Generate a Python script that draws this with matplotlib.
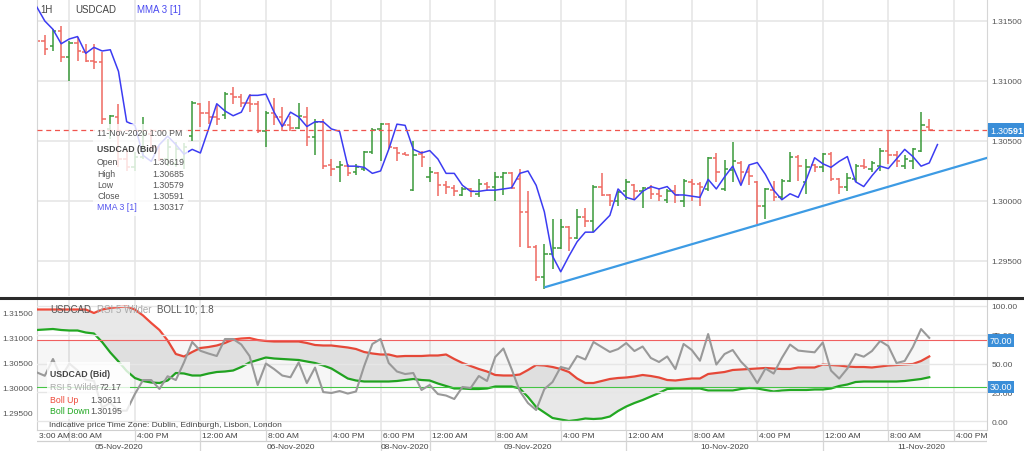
import matplotlib
matplotlib.use('Agg')
import matplotlib.pyplot as plt
import matplotlib.transforms as mtransforms
from matplotlib.lines import Line2D
from matplotlib.patches import Rectangle
import numpy as np

plt.rcParams['font.family'] = ['Liberation Sans', 'DejaVu Sans']
plt.rcParams['mathtext.fontset'] = 'custom'
plt.rcParams['mathtext.rm'] = 'Liberation Sans'
plt.rcParams['mathtext.bf'] = 'Liberation Sans:bold'

# ---------------- data ----------------
bar_index = list(range(-4, 106))   # hourly bars, 0 = 05-Nov 8:00 AM

opens = [1.3135, 1.3133, 1.3129, 1.3142, 1.3120, 1.3132, 1.3124, 1.3117, 1.3116, 1.3060,
         1.3070, 1.3035, 1.3028, 1.3037, 1.3056, 1.3045, 1.3035, 1.3031, 1.3035, 1.3054,
         1.3081, 1.3073, 1.3070, 1.3072, 1.3089, 1.3087, 1.3082, 1.3081, 1.3058, 1.3073,
         1.3070, 1.3063, 1.3061, 1.3070, 1.3053, 1.3066, 1.3030, 1.3028, 1.3029, 1.3024,
         1.3027, 1.3041, 1.3060, 1.3064, 1.3044, 1.30395, 1.3009, 1.3039, 1.3020, 1.3023,
         1.3013, 1.3011, 1.3005, 1.3010, 1.3006, 1.3014, 1.3012, 1.3020, 1.3023, 1.3018,
         1.2991, 1.2962, 1.2937, 1.2956, 1.2961, 1.2978, 1.2969, 1.2987, 1.2983, 1.3012,
         1.3005, 1.3000, 1.3008, 1.3013, 1.3008, 1.3011, 1.3006, 1.3001, 1.3008, 1.3000,
         1.3016, 1.3014, 1.3010, 1.3036, 1.3010, 1.3026, 1.3032, 1.3024, 1.3016, 1.2996,
         1.3009, 1.3003, 1.3017, 1.3037, 1.3016, 1.3030, 1.3028, 1.3039, 1.3018, 1.3012,
         1.3018, 1.3029, 1.3027, 1.3029, 1.3042, 1.3038, 1.3029, 1.3033, 1.3042, 1.30619]
highs = [1.3142, 1.3138, 1.3143, 1.3146, 1.3133, 1.3137, 1.3131, 1.3131, 1.3124, 1.3072,
         1.3081, 1.3043, 1.3041, 1.3070, 1.3060, 1.3046, 1.3052, 1.3049, 1.3048, 1.3083,
         1.3082, 1.3083, 1.3081, 1.3091, 1.3095, 1.3089, 1.3089, 1.3083, 1.3075, 1.3086,
         1.3078, 1.3071, 1.3082, 1.3078, 1.3068, 1.3068, 1.3035, 1.3033, 1.3031, 1.3031,
         1.3042, 1.3061, 1.3065, 1.3065, 1.3045, 1.3041, 1.3050, 1.3042, 1.3028, 1.3024,
         1.3017, 1.3013, 1.3012, 1.3011, 1.3018, 1.3016, 1.3024, 1.3024, 1.3024, 1.3027,
         1.3008, 1.2963, 1.2964, 1.2985, 1.2985, 1.2979, 1.2993, 1.2994, 1.3013, 1.3023,
         1.3006, 1.3008, 1.3018, 1.3014, 1.3012, 1.3013, 1.3010, 1.3010, 1.3013, 1.3018,
         1.3018, 1.3016, 1.3037, 1.3040, 1.3034, 1.3049, 1.3033, 1.3029, 1.3017, 1.3011,
         1.3017, 1.3018, 1.3041, 1.3038, 1.3035, 1.3031, 1.3040, 1.3041, 1.3019, 1.3023,
         1.3031, 1.3035, 1.3033, 1.3044, 1.3058, 1.3042, 1.3038, 1.3044, 1.3074, 1.30685]
lows = [1.3130, 1.3122, 1.3125, 1.3116, 1.3100, 1.3117, 1.3116, 1.3110, 1.3064, 1.3052,
        1.3028, 1.3025, 1.3025, 1.3035, 1.3042, 1.3033, 1.3029, 1.3028, 1.3027, 1.3050,
        1.3062, 1.3064, 1.3063, 1.3068, 1.3081, 1.3078, 1.3074, 1.3057, 1.3045, 1.3063,
        1.3058, 1.3058, 1.3060, 1.3046, 1.3038, 1.3027, 1.3021, 1.3016, 1.3021, 1.3022,
        1.3025, 1.3039, 1.3033, 1.3043, 1.3033, 1.3038, 1.3008, 1.3028, 1.3016, 1.3004,
        1.3006, 1.3004, 1.3004, 1.3003, 1.3003, 1.3008, 1.3000, 1.3005, 1.3010, 1.2962,
        1.2961, 1.2933, 1.2927, 1.2943, 1.2960, 1.2958, 1.2968, 1.2978, 1.2974, 1.3004,
        1.2996, 1.2996, 1.3001, 1.3002, 1.2994, 1.3002, 1.3000, 1.2998, 1.2998, 1.2995,
        1.3000, 1.2996, 1.3008, 1.3016, 1.3008, 1.3016, 1.3013, 1.3013, 1.2981, 1.2985,
        1.3000, 1.3002, 1.3016, 1.3017, 1.3006, 1.3024, 1.3024, 1.3017, 1.3006, 1.3008,
        1.3016, 1.3027, 1.3024, 1.3025, 1.3031, 1.3028, 1.3027, 1.3027, 1.3041, 1.30579]
closes = [1.3133, 1.3127, 1.3142, 1.3120, 1.3132, 1.3125, 1.3117, 1.3116, 1.3068, 1.3071,
          1.3035, 1.3028, 1.3037, 1.3056, 1.3045, 1.3035, 1.3045, 1.3043, 1.3045, 1.3082,
          1.3073, 1.3070, 1.3068, 1.3089, 1.3087, 1.3082, 1.3081, 1.3058, 1.3073, 1.3070,
          1.3063, 1.3061, 1.3071, 1.3053, 1.3066, 1.3029, 1.3027, 1.3030, 1.3023, 1.3028,
          1.3041, 1.3059, 1.3064, 1.3045, 1.3040, 1.3038, 1.3038, 1.3037, 1.3024, 1.3013,
          1.3012, 1.3008, 1.3010, 1.3008, 1.3014, 1.3012, 1.3020, 1.3023, 1.3011, 1.2991,
          1.2962, 1.2937, 1.2956, 1.2961, 1.2978, 1.2969, 1.2987, 1.2983, 1.3012, 1.3005,
          1.3000, 1.30075, 1.3016, 1.3008, 1.3011, 1.3006, 1.3004, 1.3008, 1.3005, 1.3017,
          1.3014, 1.3012, 1.3036, 1.3024, 1.3027, 1.3033, 1.3024, 1.3021, 1.2996, 1.3010,
          1.3003, 1.3017, 1.3037, 1.3029, 1.3028, 1.3028, 1.3039, 1.3018, 1.3012, 1.3019,
          1.3029, 1.3028, 1.3032, 1.3042, 1.3038, 1.3033, 1.3035, 1.3043, 1.3063, 1.30591]

mma_index = list(range(-4, 107))   # MMA 3 [1], drawn one bar forward
mma = [1.3162, 1.3150, 1.3143, 1.3131, 1.3135, 1.3137, 1.3123, 1.3128, 1.3125, 1.3126,
       1.3108, 1.3066, 1.3063, 1.3038, 1.3033, 1.3047, 1.3054, 1.3047, 1.3039, 1.3043,
       1.3040, 1.3060, 1.3081, 1.3075, 1.3071, 1.3074, 1.3088, 1.3088, 1.3089, 1.3074,
       1.3062, 1.3074, 1.3070, 1.3062, 1.3066, 1.3066, 1.3060, 1.3058, 1.3029, 1.3029,
       1.3028, 1.3023, 1.3025, 1.3043, 1.3064, 1.3063, 1.3043, 1.3040, 1.3042, 1.3035,
       1.3023, 1.3023, 1.3013, 1.3008, 1.3008, 1.3009, 1.3009, 1.3010, 1.3011, 1.3023,
       1.3025, 1.3013, 1.2991, 1.2954, 1.2941, 1.2954, 1.2966, 1.2974, 1.2974, 1.2981,
       1.2988, 1.3010, 1.3003, 1.3001, 1.3008, 1.3012, 1.3010, 1.3012, 1.3005, 1.3005,
       1.3004, 1.3003, 1.3018, 1.3010, 1.3020, 1.3029, 1.3013, 1.3030, 1.3032, 1.3022,
       1.3009, 1.3001, 1.3006, 1.3003, 1.3018, 1.3036, 1.3031, 1.3028, 1.3033, 1.3037,
       1.3016, 1.3012, 1.3021, 1.3029, 1.3027, 1.3035, 1.3043, 1.3037, 1.3029, 1.30317,
       1.3047]

trend_x = [58, 112.1]
trend_y = [1.2928, 1.3036]

rsi = [42.4, 39.4, 53.9, 38.0, 50.0, 44.0, 36.0, 35.0, 12.0, 16.0,
       9.2, 9.2, 23.6, 35.7, 35.7, 28.0, 39.0, 35.7, 51.0, 68.6,
       61.0, 58.6, 56.5, 71.2, 71.2, 66.4, 56.5, 31.4, 50.0, 45.2,
       39.6, 38.1, 50.9, 33.1, 46.5, 25.3, 24.5, 26.2, 24.0, 25.8,
       47.8, 66.9, 71.2, 50.4, 43.1, 40.9, 41.8, 27.1, 31.4, 23.6,
       22.3, 19.3, 29.7, 28.8, 39.2, 34.9, 55.6, 63.0, 45.2, 26.2,
       15.8, 9.8, 27.9, 34.0, 47.0, 45.2, 56.5, 53.5, 68.6, 64.3,
       60.0, 62.5, 67.7, 60.8, 64.7, 54.8, 51.3, 56.1, 45.2, 66.9,
       61.7, 52.4, 75.5, 49.1, 58.2, 61.7, 51.7, 44.4, 33.1, 45.7,
       41.3, 54.8, 66.4, 61.2, 60.4, 59.7, 68.2, 43.9, 37.0, 45.7,
       58.2, 55.9, 60.8, 69.5, 65.1, 50.4, 52.2, 64.3, 79.8, 72.17]

boll_up = [1.3155, 1.3155, 1.3155, 1.3155, 1.3155, 1.3155, 1.3155, 1.3148, 1.3155, 1.3158,
           1.3160, 1.3161, 1.3155, 1.3143, 1.3128, 1.3114, 1.3093, 1.3066, 1.3061, 1.3070,
           1.3078, 1.3080, 1.3083, 1.3088, 1.3095, 1.3097, 1.3098, 1.3094, 1.3092, 1.3091,
           1.3091, 1.3091, 1.3091, 1.3088, 1.3084, 1.3083, 1.3083, 1.3081, 1.3079, 1.3076,
           1.3070, 1.3067, 1.3065, 1.3065, 1.3061, 1.3062, 1.3062, 1.3062, 1.3063, 1.3063,
           1.3065, 1.3056, 1.3048, 1.3042, 1.3036, 1.3031, 1.3024, 1.3023, 1.3023, 1.3025,
           1.3034, 1.3044, 1.3043, 1.3040, 1.3036, 1.3030, 1.3017, 1.3008, 1.3008, 1.3012,
           1.3016, 1.3018, 1.3019, 1.3021, 1.3024, 1.3022, 1.3019, 1.3014, 1.3013, 1.3015,
           1.3017, 1.3017, 1.3026, 1.3028, 1.3030, 1.3034, 1.3035, 1.3036, 1.3037, 1.3038,
           1.3037, 1.3036, 1.3036, 1.3039, 1.3039, 1.3039, 1.3045, 1.3044, 1.3043, 1.3041,
           1.3040, 1.3040, 1.3039, 1.3041, 1.3043, 1.3044, 1.3045, 1.3046, 1.3052, 1.30611]
boll_down = [1.3114, 1.3115, 1.3116, 1.3114, 1.3113, 1.3113, 1.3109, 1.3107, 1.3090, 1.3069,
             1.3051, 1.3032, 1.3018, 1.3012, 1.3009, 1.3008, 1.3013, 1.3028, 1.3027, 1.3023,
             1.3023, 1.3027, 1.3030, 1.3031, 1.3033, 1.3040, 1.3049, 1.3054, 1.3059, 1.3057,
             1.3056, 1.3055, 1.3054, 1.3051, 1.3048, 1.3043, 1.3037, 1.3027, 1.3017, 1.3013,
             1.3011, 1.3011, 1.3011, 1.3011, 1.3012, 1.3014, 1.3016, 1.3014, 1.3013, 1.3007,
             1.3002, 1.2997, 1.2997, 1.2996, 1.2996, 1.2997, 1.3001, 1.3001, 1.3001, 1.2997,
             1.2980, 1.2960, 1.2949, 1.2938, 1.2935, 1.2932, 1.2934, 1.2937, 1.2936, 1.2937,
             1.2941, 1.2952, 1.2961, 1.2968, 1.2974, 1.2981, 1.2988, 1.2996, 1.2997, 1.2997,
             1.2997, 1.2997, 1.2993, 1.2993, 1.2993, 1.2993, 1.2996, 1.2998, 1.2997, 1.2994,
             1.2991, 1.2993, 1.2994, 1.2994, 1.2994, 1.2995, 1.2995, 1.2997, 1.3002, 1.3005,
             1.3010, 1.3011, 1.3011, 1.3011, 1.3011, 1.3011, 1.3012, 1.3014, 1.3016, 1.30195]

price_ticks = [1.295, 1.300, 1.305, 1.310, 1.315]
rsi_ticks = [0, 25, 50, 75, 100]
rsi_levels = [70, 30]

time_ticks = [-4, 0, 8, 16, 24, 32, 38, 44, 52, 60, 68, 76, 84, 92, 100, 108]
time_labels = ['3:00 AM', '8:00 AM', '4:00 PM', '12:00 AM', '8:00 AM', '4:00 PM', '6:00 PM',
               '12:00 AM', '8:00 AM', '4:00 PM', '12:00 AM', '8:00 AM', '4:00 PM', '12:00 AM',
               '8:00 AM', '4:00 PM']
date_bounds = [-4, 16, 38, 44, 68, 92, 116]
date_labels = ['05-Nov-2020', '06-Nov-2020', '08-Nov-2020', '09-Nov-2020', '10-Nov-2020', '11-Nov-2020']

tooltip_time = '11-Nov-2020 1:00 PM'

# ---------------- styling ----------------
RED = '#ef6a62'
GREEN = '#3a9a3a'
BLUE = '#3c3cf2'
GRID = '#e6e6e6'
TXT = '#555555'
TAG = '#3a8ed8'

W, H = 1024, 452
def box(x0, y0, x1, y1):
    return [x0 / W, 1 - y1 / H, (x1 - x0) / W, (y1 - y0) / H]

fig = plt.figure(figsize=(10.24, 4.52), dpi=100)
ax = fig.add_axes(box(37, 0, 987, 297))
axp = fig.add_axes(box(37, 300, 987, 431))
axr = axp.twinx()
axl = fig.add_axes(box(37, 431, 987, 452))

XMIN, XMAX = -3.95, 112.05
idx = np.array(bar_index)
o = np.array(opens); h = np.array(highs); l = np.array(lows); c = np.array(closes)
cols = np.where(c >= o, GREEN, RED)

# ---------------- top panel ----------------
ax.set_xlim(XMIN, XMAX)
ax.set_ylim(1.29208, 1.31683)
ax.set_xticks(time_ticks[1:])
ax.set_xticklabels([])
ax.yaxis.tick_right()
ax.set_yticks(price_ticks)
ax.set_yticklabels([f'{v:.5f}' for v in price_ticks])
ax.tick_params(axis='both', length=0, labelsize=6, labelcolor=TXT, pad=3)
ax.grid(True, color=GRID, lw=1.2, zorder=0)
ax.set_axisbelow(True)
for s in ['top', 'bottom']:
    ax.spines[s].set_visible(False)
for s in ['left', 'right']:
    ax.spines[s].set_color('#d6d6d6')

ax.vlines(idx, l, h, colors=cols, lw=1.1, zorder=2)
ax.hlines(o, idx - 0.42, idx, colors=cols, lw=1.1, zorder=2)
ax.hlines(c, idx, idx + 0.42, colors=cols, lw=1.1, zorder=2)
ax.plot(mma_index, mma, color=BLUE, lw=1.1, zorder=3)
ax.plot(trend_x, trend_y, color='#3d9be4', lw=1.6, zorder=3, solid_capstyle='butt')
ax.axhline(closes[-1], color='#f0554e', lw=0.9, ls=(0, (4, 3)), zorder=3)

tr = mtransforms.blended_transform_factory(ax.transAxes, ax.transData)
s = f'{closes[-1]:.5f}'
ax.text(1.003, closes[-1], s[:4] + r'$\mathbf{' + s[4:] + '}$', transform=tr, ha='left', va='center',
        fontsize=6.5, color='white', zorder=10, clip_on=False,
        bbox=dict(boxstyle='square,pad=0.18', fc=TAG, ec='none'))

ax.text(0.003, 0.966, '1H', transform=ax.transAxes, fontsize=7, color='#444', va='center')
ax.text(0.040, 0.966, 'USDCAD', transform=ax.transAxes, fontsize=7, color='#444', va='center')
ax.text(0.105, 0.966, 'MMA 3 [1]', transform=ax.transAxes, fontsize=7, color='#4a4af0', va='center')

# tooltip (top)
ax.add_patch(Rectangle((0.059, 0.269), 0.100, 0.310, transform=ax.transAxes,
                       fc='white', ec='none', alpha=0.8, zorder=6))
def ty(ypx):
    return 1 - ypx / 297
tx0, tx1 = (97 - 37) / 950, (152 - 37) / 950
ax.text(tx0, ty(133), tooltip_time, transform=ax.transAxes, fontsize=6.3, color=TXT, va='center', zorder=7)
ax.text(tx0, ty(150), 'USDCAD (Bid)', transform=ax.transAxes, fontsize=6.3, color='#444',
        fontweight='bold', va='center', zorder=7)
rows = [('Open', opens[-1]), ('High', highs[-1]), ('Low', lows[-1]), ('Close', closes[-1])]
for k, (lab, val) in enumerate(rows):
    yy = ty(163 + 11.3 * k)
    ax.text(tx0, yy, lab, transform=ax.transAxes, fontsize=6.3, color=TXT, va='center', zorder=7)
    ax.text(tx1, yy, f'{val:.5f}', transform=ax.transAxes, fontsize=6.3, color=TXT, va='center', zorder=7)
ax.text(tx0, ty(208), 'MMA 3 [1]', transform=ax.transAxes, fontsize=6.3, color='#5555ee', va='center', zorder=7)
ax.text(tx1, ty(208), f'{mma[-2]:.5f}', transform=ax.transAxes, fontsize=6.3, color=TXT, va='center', zorder=7)

# separator between panels
fig.add_artist(Line2D([0, 1], [1 - 298.5 / H, 1 - 298.5 / H], transform=fig.transFigure,
                      color='#2b2b2b', lw=2.2))

# ---------------- bottom panel ----------------
axp.set_xlim(XMIN, XMAX)
axp.set_ylim(1.2914, 1.3176)
axp.set_xticks(time_ticks[1:])
axp.set_xticklabels([])
axp.set_yticks(price_ticks)
axp.set_yticklabels([f'{v:.5f}' for v in price_ticks])
axp.tick_params(axis='both', length=0, labelsize=6, labelcolor=TXT, pad=3)
axp.grid(True, axis='x', color=GRID, lw=1.2, zorder=0)
axp.set_axisbelow(True)
axp.spines['top'].set_visible(False)
for sname in ['left', 'right', 'bottom']:
    axp.spines[sname].set_color('#d0d0d0')

axp.fill_between(idx, boll_down, boll_up, color='#e8e8e8', lw=0, zorder=1)
axp.plot(idx, boll_up, color='#ee4b3b', lw=1.6, zorder=3)
axp.plot(idx, boll_down, color='#22a822', lw=1.6, zorder=3)

axr.set_ylim(-7.5, 105.8)
axr.set_yticks(rsi_ticks)
axr.set_yticklabels([f'{v:.2f}' for v in rsi_ticks])
axr.tick_params(axis='y', length=0, labelsize=6, labelcolor=TXT, pad=3)
axr.grid(True, axis='y', color=GRID, lw=1.0, zorder=0)
for sname in ['top', 'left', 'right', 'bottom']:
    axr.spines[sname].set_visible(False)

axr.fill_between([idx[0], idx[-1]], rsi_levels[1], rsi_levels[0], color='k', alpha=0.035, lw=0, zorder=1)
axr.axhline(rsi_levels[0], color='#f06060', lw=0.8, zorder=2)
axr.axhline(rsi_levels[1], color='#44c444', lw=0.8, zorder=2)
axr.plot(idx, rsi, color='#999999', lw=1.5, zorder=4)

trr = mtransforms.blended_transform_factory(axr.transAxes, axr.transData)
for lev in rsi_levels:
    axr.text(1.003, lev, f'{lev:.2f}', transform=trr, ha='left', va='center', fontsize=6.5,
             color='white', zorder=10, clip_on=False,
             bbox=dict(boxstyle='square,pad=0.18', fc=TAG, ec='none'))

def by(ypx):
    return (431 - ypx) / 131
axr.text((50 - 37) / 950, by(310), 'USDCAD', transform=axr.transAxes, fontsize=7, color='#555', va='center', zorder=8)
axr.text((97 - 37) / 950, by(310), 'RSI 5 Wilder', transform=axr.transAxes, fontsize=7, color='#aaaaaa', va='center', zorder=8)
axr.text((157 - 37) / 950, by(310), 'BOLL 10; 1.8', transform=axr.transAxes, fontsize=7, color='#555', va='center', zorder=8)

# tooltip (bottom)
axr.add_patch(Rectangle((0.0102, 0.084), 0.0877, 0.433, transform=axr.transAxes,
                        fc='white', ec='none', alpha=0.8, zorder=9))
bx0, bx1 = (50 - 37) / 950, (122 - 37) / 950
axr.text(bx0, by(375), 'USDCAD (Bid)', transform=axr.transAxes, fontsize=6.3, color='#444',
         fontweight='bold', va='center', zorder=10)
brows = [('RSI 5 Wilder', f'{rsi[-1]:.2f}', '#aaaaaa', 388),
         ('Boll Up', f'{boll_up[-1]:.5f}', '#ee4b3b', 400.5),
         ('Boll Down', f'{boll_down[-1]:.5f}', '#22a822', 412)]
for lab, val, colr, ypx in brows:
    axr.text(bx0, by(ypx), lab, transform=axr.transAxes, fontsize=6.3, color=colr, va='center', zorder=10)
    axr.text(bx1, by(ypx), val, transform=axr.transAxes, fontsize=6.3, color=TXT, va='center',
             ha='right', zorder=10)

axr.text((49 - 37) / 950, by(426), 'Indicative price', transform=axr.transAxes, fontsize=6, color='#444',
         va='center', zorder=10)
axr.text((107 - 37) / 950, by(426), 'Time Zone: Dublin, Edinburgh, Lisbon, London', transform=axr.transAxes,
         fontsize=6, color='#444', va='center', zorder=10)

# ---------------- time axis rows ----------------
axl.set_xlim(XMIN, XMAX)
axl.set_ylim(0, 1)
axl.axis('off')
mid = (452 - 442) / 21
axl.axhline(mid, color='#d0d0d0', lw=0.9)
axl.vlines(time_ticks[1:] + [XMAX], mid, 1, color='#d6d6d6', lw=0.9)
axl.vlines(date_bounds[1:-1], 0, mid, color='#d6d6d6', lw=0.9)
for pos, lab in zip(time_ticks, time_labels):
    axl.text(pos + 0.25, 0.75, lab, ha='left', va='center', fontsize=6, color='#444')
for k, lab in enumerate(date_labels):
    axl.text((date_bounds[k] + date_bounds[k + 1]) / 2, 0.22, lab, ha='center', va='center',
             fontsize=6, color='#444', clip_on=False)

fig.savefig('out.png', dpi=100)
